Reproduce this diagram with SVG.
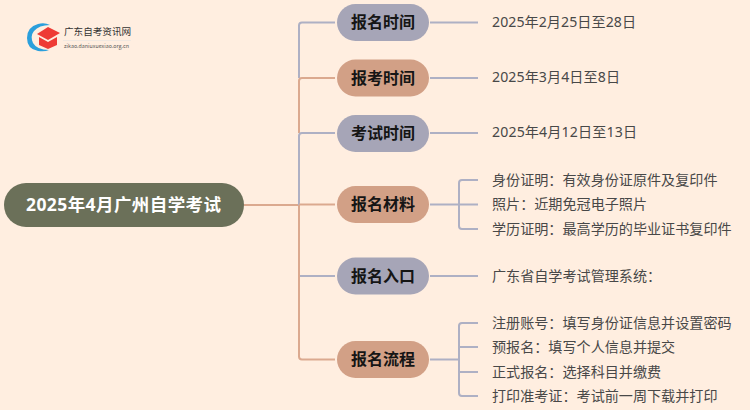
<svg xmlns="http://www.w3.org/2000/svg" width="750" height="410" viewBox="0 0 750 410">
<style>
text{font-family:"Noto Sans CJK SC","Noto Sans",sans-serif}
.g{fill:#a6a5b7}
.s{fill:#d2a086}
.t{font-size:16px;font-weight:700;fill:#151515;text-anchor:middle}
.l{font-size:14.100px;fill:#484848}
.d{font-family:"Noto Sans","Noto Sans CJK SC",sans-serif}
.cg,.cs{fill:none;stroke-width:2}
.cg{stroke:#aeb0c4}
.cs{stroke:#dba98f}
</style>
<rect width="750" height="410" fill="#ffeee0"/>
<g id="connectors">
<path class="cs" d="M244 205H299"/>
<path class="cg" d="M335 22.500H302Q299 22.500 299 25.500V78"/>
<path class="cs" d="M335 78H302Q299 78 299 81V133"/>
<path class="cg" d="M335 133H302Q299 133 299 136V205"/>
<path class="cs" d="M335 204.500H299M299 205V356.500Q299 359.500 302 359.500H335"/>
<path class="cg" d="M335 276H300"/>
<path class="cg" d="M430 22.500H478M430 78H478M430 133H478M430 276H478M430 204.500H478"/>
<path class="cg" d="M478 180H462Q459 180 459 183V226Q459 229 462 229H478"/>
<path class="cg" d="M430 359.500H459"/>
<path class="cg" d="M478 323H462Q459 323 459 326V393Q459 396 462 396H478M459 347H478M459 372H478"/>
</g>
<g id="logo">
<path d="M50 25A15 15 0 0 0 38 24Q27 27 27 38Q27 49 38 51Q45 52 49 50Q37 50 33 43Q30 36 34 31Q39 25 50 25Z" fill="#2b9fdc"/>
<path d="M48 27L60 33L48 40L37 34Z" fill="#ee3b35"/>
<path d="M39 37L48 42L57 37V45L48 49L39 45Z" fill="#ee3b35"/>
<text x="64" y="35" font-size="9.600" fill="#333">广东自考资讯网</text>
<path d="M63 40.500H131" stroke="#e6e4e0" stroke-width="0.600"/>
<text x="64" y="48" font-size="5.300" fill="#555" textLength="65">zikao.daniuxuexiao.org.cn</text>
</g>
<g id="root">
<rect x="4" y="183" width="240" height="44" rx="22" fill="#6b7059"/>
<text class="d" x="26" y="210.500" font-size="17.500" font-weight="700" fill="#fff" textLength="195">2025年4月广州自学考试</text>
</g>
<g id="n1">
<rect class="g" x="337" y="4" width="92" height="37" rx="18.500"/>
<text class="t" x="383" y="28">报名时间</text>
<text class="l d" x="492" y="27" textLength="144">2025年2月25日至28日</text>
</g>
<g id="n2">
<rect class="s" x="337" y="59.500" width="92" height="37" rx="18.500"/>
<text class="t" x="383" y="83.500">报考时间</text>
<text class="l d" x="492" y="82" textLength="128">2025年3月4日至8日</text>
</g>
<g id="n3">
<rect class="g" x="337" y="115" width="92" height="37" rx="18.500"/>
<text class="t" x="383" y="139">考试时间</text>
<text class="l d" x="492" y="137" textLength="145">2025年4月12日至13日</text>
</g>
<g id="n4">
<rect class="s" x="337" y="186" width="92" height="37" rx="18.500"/>
<text class="t" x="383" y="210">报名材料</text>
<text class="l" x="492" y="185">身份证明：有效身份证原件及复印件</text>
<text class="l" x="492" y="209">照片：近期免冠电子照片</text>
<text class="l" x="492" y="234">学历证明：最高学历的毕业证书复印件</text>
</g>
<g id="n5">
<rect class="g" x="337" y="257.500" width="92" height="37" rx="18.500"/>
<text class="t" x="383" y="281.500">报名入口</text>
<text class="l" x="492" y="281">广东省自学考试管理系统：</text>
</g>
<g id="n6">
<rect class="s" x="337" y="341" width="92" height="37" rx="18.500"/>
<text class="t" x="383" y="365">报名流程</text>
<text class="l" x="492" y="328">注册账号：填写身份证信息并设置密码</text>
<text class="l" x="492" y="352">预报名：填写个人信息并提交</text>
<text class="l" x="492" y="377">正式报名：选择科目并缴费</text>
<text class="l" x="492" y="401">打印准考证：考试前一周下载并打印</text>
</g>
</svg>
